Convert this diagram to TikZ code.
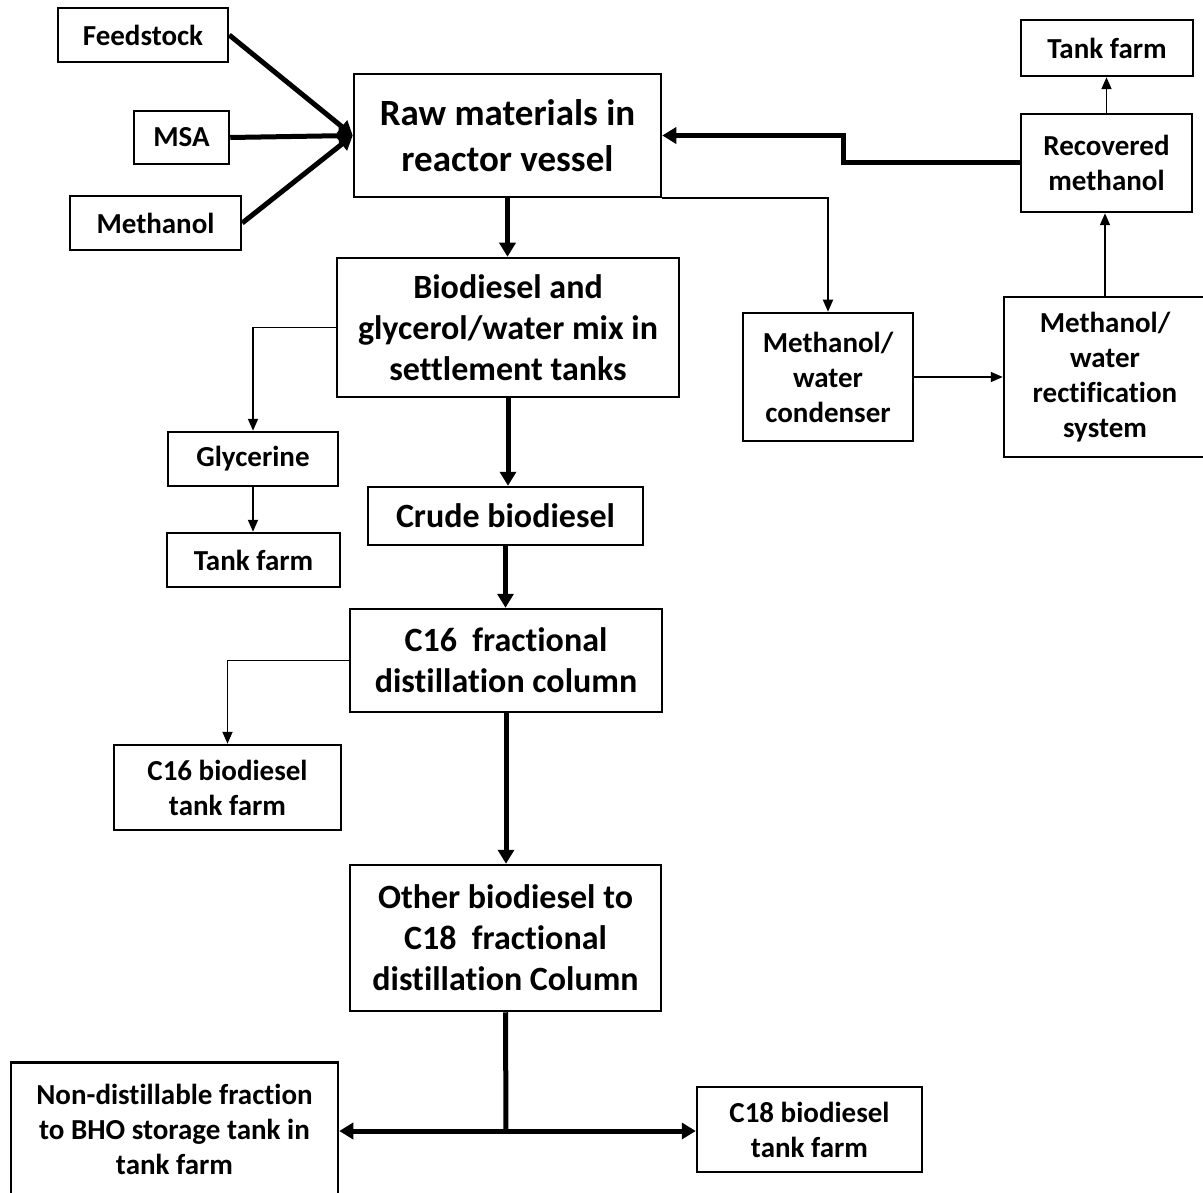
\documentclass[tikz,border=0pt]{standalone}
\usepackage{fontspec}
\setmainfont{Carlito}[Ligatures=NoCommon]
\usepackage{tikz}
\usetikzlibrary{positioning}
\usetikzlibrary{arrows.meta}

\begin{document}
\begin{tikzpicture}[x=1pt,y=-1pt]
	\tikzstyle{BoxStyle}    = [draw, line width=2.5pt, align=center, inner sep=0pt, font=\fontsize{29}{35}\selectfont\bfseries]
	\tikzstyle{BigBoxStyle} = [BoxStyle, font=\fontsize{34}{41}\selectfont\bfseries]
	\tikzstyle{ThickEdge}   = [->, >={Triangle[length=14pt,width=16pt]}, line width=5pt]
	\tikzstyle{ThinEdge}    = [->, >={Triangle[length=12pt,width=10pt]}, line width=1.8pt]
	\useasboundingbox (0,0) rectangle (1203,1193);
	% feeds
	\node[BoxStyle, minimum width=170, minimum height=54] (feed) at (143,35) {Feedstock};
	\node[BoxStyle, minimum width=95, minimum height=53] (msa) at (181.5,137.5) {MSA};
	\node[BoxStyle, minimum width=171, minimum height=54] (meth) at (155.5,223) {Methanol};
	\node[BoxStyle, minimum width=307, minimum height=123, font=\fontsize{37}{46}\selectfont\bfseries] (raw) at (507.5,135.5) {Raw materials in\\reactor vessel};
	% methanol recovery
	\node[BoxStyle, minimum width=172, minimum height=56] (tankA) at (1107,48) {Tank farm};
	\node[BoxStyle, minimum width=171, minimum height=98] (recov) at (1106.5,163) {Recovered\\methanol};
	\node[BoxStyle, minimum width=170, minimum height=128] (cond) at (828,377) {Methanol/\\water\\condenser};
	\node[BoxStyle, minimum width=202, minimum height=160] (rect) at (1105,377) {Methanol/\\water\\rectification\\system};
	\coordinate (kink) at (843,163);
	% main line
	\node[BigBoxStyle, minimum width=342, minimum height=139] (settle) at (508,327.5) {Biodiesel and\\glycerol/water mix in\\settlement tanks};
	\node[BoxStyle, minimum width=170, minimum height=54] (glyc) at (253,459) {Glycerine};
	\node[BoxStyle, minimum width=173, minimum height=54] (tankB) at (253.5,560) {Tank farm};
	\node[BigBoxStyle, minimum width=275, minimum height=58] (crude) at (505.5,516) {Crude biodiesel};
	\node[BigBoxStyle, minimum width=312, minimum height=103] (colA) at (506,660.5) {C16~ fractional\\distillation column};
	\node[BoxStyle, minimum width=227, minimum height=85] (tankC) at (227.5,787.5) {C16 biodiesel\\tank farm};
	\node[BigBoxStyle, minimum width=311, minimum height=146] (colB) at (505.5,938) {Other biodiesel to\\C18~ fractional\\distillation Column};
	\node[BoxStyle, minimum width=327, minimum height=134] (bho) at (174.5,1129.5) {Non-distillable fraction\\to BHO storage tank in\\tank farm};
	\node[BoxStyle, minimum width=225, minimum height=85] (tankD) at (809.5,1129.5) {C18 biodiesel\\tank farm};
	\coordinate (split) at (506,1131);

	\draw[ThickEdge] (feed.east) -- (raw.west);
	\draw[ThickEdge] (msa.east) -- (raw.west);
	\draw[ThickEdge] (meth.east) -- (raw.west);
	\draw[ThickEdge] (raw.south) -- (raw.south |- settle.north);
	\draw[ThinEdge] (raw.south east) -| (cond.north);
	\draw[ThinEdge] (cond.east) -- (rect.west);
	\draw[ThinEdge] (rect.north) -- (rect.north |- recov.south);
	\draw[ThinEdge] (recov.north) -- (recov.north |- tankA.south);
	\draw[ThickEdge] (recov.west) -- (kink) |- (raw.east);
	\draw[ThinEdge] (settle.west) -| (glyc.north);
	\draw[ThinEdge] (glyc.south) -- (glyc.south |- tankB.north);
	\draw[ThickEdge] (settle.south) -- (settle.south |- crude.north);
	\draw[ThickEdge] (crude.south) -- (crude.south |- colA.north);
	\draw[ThinEdge] (colA.west) -| (tankC.north);
	\draw[ThickEdge] (colA.south) -- (colA.south |- colB.north);
	\draw[line width=5pt] (colB.south) -- (split);
	\draw[ThickEdge] (split) -- (bho.east |- split);
	\draw[ThickEdge] (split) -- (tankD.west |- split);
\end{tikzpicture}
\end{document}
